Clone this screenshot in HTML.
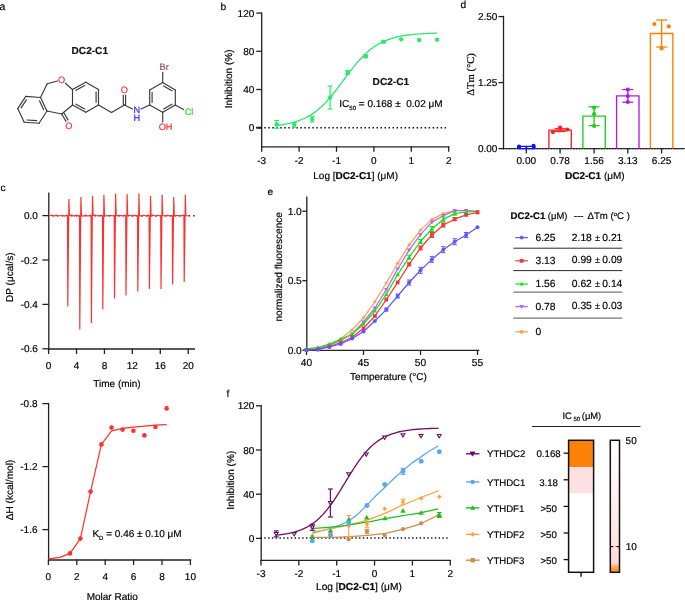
<!DOCTYPE html>
<html><head><meta charset="utf-8"><style>
html,body{margin:0;padding:0;background:#fff;}
svg{display:block;will-change:transform;}
text{stroke:#000;stroke-width:0.18px;paint-order:stroke;}
.nostroke{stroke:none}
svg{font-family:"Liberation Sans", sans-serif;text-rendering:geometricPrecision;}
</style></head><body>
<svg width="685" height="600" viewBox="0 0 685 600">
<rect width="685" height="600" fill="#fff"/>
<text x="-0.50" y="10.20" font-size="10.5" text-anchor="start" fill="#000" style="stroke:#000" >a</text>
<text x="220.50" y="10.30" font-size="10.2" text-anchor="start" fill="#000" style="stroke:#000" >b</text>
<text x="460.50" y="7.50" font-size="10.2" text-anchor="start" fill="#000" style="stroke:#000" >d</text>
<text x="0.50" y="191.20" font-size="10.2" text-anchor="start" fill="#000" style="stroke:#000" >c</text>
<text x="267.50" y="194.60" font-size="10.2" text-anchor="start" fill="#000" style="stroke:#000" >e</text>
<text x="226.50" y="396.50" font-size="10.2" text-anchor="start" fill="#000" style="stroke:#000" >f</text>
<text x="89.80" y="54.00" font-size="10.1" text-anchor="middle" font-weight="bold" fill="#111" style="stroke:#111" >DC2-C1</text>
<line x1="40.50" y1="97.50" x2="25.80" y2="96.40" stroke="#3a3a3a" stroke-width="1.15" stroke-linecap="round"/>
<line x1="25.80" y1="96.40" x2="17.70" y2="108.60" stroke="#3a3a3a" stroke-width="1.15" stroke-linecap="round"/>
<line x1="17.70" y1="108.60" x2="24.20" y2="122.20" stroke="#3a3a3a" stroke-width="1.15" stroke-linecap="round"/>
<line x1="24.20" y1="122.20" x2="39.00" y2="123.20" stroke="#3a3a3a" stroke-width="1.15" stroke-linecap="round"/>
<line x1="39.00" y1="123.20" x2="47.00" y2="111.00" stroke="#3a3a3a" stroke-width="1.15" stroke-linecap="round"/>
<line x1="47.00" y1="111.00" x2="40.50" y2="97.50" stroke="#3a3a3a" stroke-width="1.15" stroke-linecap="round"/>
<line x1="26.40" y1="99.84" x2="21.05" y2="107.89" stroke="#3a3a3a" stroke-width="1.15" stroke-linecap="round"/>
<line x1="39.45" y1="100.85" x2="43.74" y2="109.76" stroke="#3a3a3a" stroke-width="1.15" stroke-linecap="round"/>
<line x1="26.86" y1="119.97" x2="36.63" y2="120.63" stroke="#3a3a3a" stroke-width="1.15" stroke-linecap="round"/>
<line x1="40.50" y1="97.50" x2="47.20" y2="83.80" stroke="#3a3a3a" stroke-width="1.15" stroke-linecap="round"/>
<line x1="47.20" y1="83.80" x2="57.50" y2="81.00" stroke="#3a3a3a" stroke-width="1.15" stroke-linecap="round"/>
<line x1="72.50" y1="89.50" x2="85.80" y2="82.20" stroke="#3a3a3a" stroke-width="1.15" stroke-linecap="round"/>
<line x1="85.80" y1="82.20" x2="98.50" y2="89.50" stroke="#3a3a3a" stroke-width="1.15" stroke-linecap="round"/>
<line x1="98.50" y1="89.50" x2="98.50" y2="105.00" stroke="#3a3a3a" stroke-width="1.15" stroke-linecap="round"/>
<line x1="98.50" y1="105.00" x2="85.80" y2="112.30" stroke="#3a3a3a" stroke-width="1.15" stroke-linecap="round"/>
<line x1="85.80" y1="112.30" x2="72.50" y2="105.00" stroke="#3a3a3a" stroke-width="1.15" stroke-linecap="round"/>
<line x1="72.50" y1="105.00" x2="72.50" y2="89.50" stroke="#3a3a3a" stroke-width="1.15" stroke-linecap="round"/>
<line x1="75.94" y1="90.35" x2="84.72" y2="85.53" stroke="#3a3a3a" stroke-width="1.15" stroke-linecap="round"/>
<line x1="96.10" y1="92.14" x2="96.10" y2="102.37" stroke="#3a3a3a" stroke-width="1.15" stroke-linecap="round"/>
<line x1="84.72" y1="108.97" x2="75.95" y2="104.15" stroke="#3a3a3a" stroke-width="1.15" stroke-linecap="round"/>
<line x1="65.30" y1="83.20" x2="72.50" y2="89.50" stroke="#3a3a3a" stroke-width="1.15" stroke-linecap="round"/>
<line x1="47.00" y1="111.00" x2="61.70" y2="114.00" stroke="#3a3a3a" stroke-width="1.15" stroke-linecap="round"/>
<line x1="61.70" y1="114.00" x2="72.50" y2="105.00" stroke="#3a3a3a" stroke-width="1.15" stroke-linecap="round"/>
<line x1="61.70" y1="114.00" x2="66.20" y2="121.60" stroke="#3a3a3a" stroke-width="1.15" />
<line x1="63.90" y1="112.80" x2="68.20" y2="120.40" stroke="#3a3a3a" stroke-width="1.15" />
<text x="68.90" y="129.20" font-size="9.2" text-anchor="middle" fill="#ff2a2a" style="stroke:#ff2a2a" >O</text>
<text x="61.50" y="83.00" font-size="9.2" text-anchor="middle" fill="#ff2a2a" style="stroke:#ff2a2a" >O</text>
<line x1="98.50" y1="105.00" x2="111.50" y2="112.50" stroke="#3a3a3a" stroke-width="1.15" stroke-linecap="round"/>
<line x1="111.50" y1="112.50" x2="124.40" y2="105.00" stroke="#3a3a3a" stroke-width="1.15" stroke-linecap="round"/>
<line x1="123.30" y1="105.20" x2="123.30" y2="94.80" stroke="#3a3a3a" stroke-width="1.15" />
<line x1="125.60" y1="105.20" x2="125.60" y2="94.80" stroke="#3a3a3a" stroke-width="1.15" />
<text x="124.40" y="92.60" font-size="9.2" text-anchor="middle" fill="#ff2a2a" style="stroke:#ff2a2a" >O</text>
<line x1="124.40" y1="105.00" x2="132.50" y2="109.00" stroke="#3a3a3a" stroke-width="1.15" stroke-linecap="round"/>
<text x="136.70" y="113.30" font-size="9.2" text-anchor="middle" fill="#2a2aff" style="stroke:#2a2aff" >N</text>
<text x="136.70" y="121.40" font-size="9.2" text-anchor="middle" fill="#2a2aff" style="stroke:#2a2aff" >H</text>
<line x1="141.00" y1="109.00" x2="149.70" y2="105.00" stroke="#3a3a3a" stroke-width="1.15" stroke-linecap="round"/>
<line x1="149.70" y1="105.00" x2="149.70" y2="90.00" stroke="#3a3a3a" stroke-width="1.15" stroke-linecap="round"/>
<line x1="149.70" y1="90.00" x2="162.70" y2="82.60" stroke="#3a3a3a" stroke-width="1.15" stroke-linecap="round"/>
<line x1="162.70" y1="82.60" x2="175.30" y2="90.00" stroke="#3a3a3a" stroke-width="1.15" stroke-linecap="round"/>
<line x1="175.30" y1="90.00" x2="175.30" y2="105.00" stroke="#3a3a3a" stroke-width="1.15" stroke-linecap="round"/>
<line x1="175.30" y1="105.00" x2="162.70" y2="112.30" stroke="#3a3a3a" stroke-width="1.15" stroke-linecap="round"/>
<line x1="162.70" y1="112.30" x2="149.70" y2="105.00" stroke="#3a3a3a" stroke-width="1.15" stroke-linecap="round"/>
<line x1="152.10" y1="102.45" x2="152.10" y2="92.55" stroke="#3a3a3a" stroke-width="1.15" stroke-linecap="round"/>
<line x1="163.64" y1="85.93" x2="171.95" y2="90.82" stroke="#3a3a3a" stroke-width="1.15" stroke-linecap="round"/>
<line x1="171.95" y1="104.17" x2="163.63" y2="108.99" stroke="#3a3a3a" stroke-width="1.15" stroke-linecap="round"/>
<line x1="162.70" y1="82.60" x2="162.70" y2="72.30" stroke="#3a3a3a" stroke-width="1.15" stroke-linecap="round"/>
<text x="164.20" y="69.70" font-size="9.2" text-anchor="middle" fill="#a04848" style="stroke:#a04848" >Br</text>
<line x1="175.30" y1="105.00" x2="183.50" y2="109.60" stroke="#3a3a3a" stroke-width="1.15" stroke-linecap="round"/>
<text x="189.00" y="114.60" font-size="9.2" text-anchor="middle" fill="#22dd22" style="stroke:#22dd22" >Cl</text>
<line x1="162.70" y1="112.30" x2="162.70" y2="122.00" stroke="#3a3a3a" stroke-width="1.15" stroke-linecap="round"/>
<text x="165.60" y="129.70" font-size="9.2" text-anchor="middle" fill="#ff2a2a" style="stroke:#ff2a2a" >OH</text>
<line x1="261.70" y1="12.50" x2="261.70" y2="147.40" stroke="#222" stroke-width="1.3" />
<line x1="261.10" y1="146.80" x2="449.30" y2="146.80" stroke="#222" stroke-width="1.3" />
<line x1="256.30" y1="13.10" x2="262.00" y2="13.10" stroke="#222" stroke-width="1.3" />
<text x="254.30" y="16.70" font-size="10" text-anchor="end" fill="#000" style="stroke:#000" >120</text>
<line x1="256.30" y1="51.30" x2="262.00" y2="51.30" stroke="#222" stroke-width="1.3" />
<text x="254.30" y="54.90" font-size="10" text-anchor="end" fill="#000" style="stroke:#000" >80</text>
<line x1="256.30" y1="89.50" x2="262.00" y2="89.50" stroke="#222" stroke-width="1.3" />
<text x="254.30" y="93.10" font-size="10" text-anchor="end" fill="#000" style="stroke:#000" >40</text>
<line x1="256.30" y1="127.70" x2="262.00" y2="127.70" stroke="#222" stroke-width="1.3" />
<text x="254.30" y="131.30" font-size="10" text-anchor="end" fill="#000" style="stroke:#000" >0</text>
<line x1="256.30" y1="127.70" x2="262.00" y2="127.70" stroke="#222" stroke-width="2.0" />
<line x1="261.70" y1="146.20" x2="261.70" y2="151.80" stroke="#222" stroke-width="1.3" />
<text x="261.70" y="164.00" font-size="10" text-anchor="middle" fill="#000" style="stroke:#000" >-3</text>
<line x1="299.10" y1="146.20" x2="299.10" y2="151.80" stroke="#222" stroke-width="1.3" />
<text x="299.10" y="164.00" font-size="10" text-anchor="middle" fill="#000" style="stroke:#000" >-2</text>
<line x1="336.50" y1="146.20" x2="336.50" y2="151.80" stroke="#222" stroke-width="1.3" />
<text x="336.50" y="164.00" font-size="10" text-anchor="middle" fill="#000" style="stroke:#000" >-1</text>
<line x1="373.90" y1="146.20" x2="373.90" y2="151.80" stroke="#222" stroke-width="1.3" />
<text x="373.90" y="164.00" font-size="10" text-anchor="middle" fill="#000" style="stroke:#000" >0</text>
<line x1="411.30" y1="146.20" x2="411.30" y2="151.80" stroke="#222" stroke-width="1.3" />
<text x="411.30" y="164.00" font-size="10" text-anchor="middle" fill="#000" style="stroke:#000" >1</text>
<line x1="448.70" y1="146.20" x2="448.70" y2="151.80" stroke="#222" stroke-width="1.3" />
<text x="448.70" y="164.00" font-size="10" text-anchor="middle" fill="#000" style="stroke:#000" >2</text>
<line x1="260.20" y1="127.80" x2="446.00" y2="127.80" stroke="#111" stroke-width="1.5" stroke-dasharray="1.5,2.51"/>
<polyline points="276.66,125.39 278.26,125.21 279.87,125.00 281.47,124.77 283.08,124.53 284.68,124.26 286.29,123.97 287.89,123.66 289.50,123.31 291.10,122.94 292.70,122.53 294.31,122.09 295.91,121.61 297.52,121.09 299.12,120.52 300.73,119.91 302.33,119.26 303.94,118.55 305.54,117.78 307.14,116.96 308.75,116.07 310.35,115.13 311.96,114.11 313.56,113.03 315.17,111.87 316.77,110.65 318.38,109.34 319.98,107.96 321.58,106.51 323.19,104.97 324.79,103.37 326.40,101.68 328.00,99.93 329.61,98.10 331.21,96.22 332.82,94.27 334.42,92.27 336.03,90.21 337.63,88.12 339.23,86.00 340.84,83.85 342.44,81.68 344.05,79.51 345.65,77.34 347.26,75.19 348.86,73.05 350.47,70.94 352.07,68.87 353.67,66.84 355.28,64.86 356.88,62.94 358.49,61.09 360.09,59.30 361.70,57.58 363.30,55.93 364.91,54.36 366.51,52.87 368.11,51.45 369.72,50.11 371.32,48.85 372.93,47.65 374.53,46.54 376.14,45.49 377.74,44.51 379.35,43.59 380.95,42.74 382.55,41.95 384.16,41.21 385.76,40.53 387.37,39.89 388.97,39.31 390.58,38.77 392.18,38.27 393.79,37.81 395.39,37.38 396.99,36.99 398.60,36.63 400.20,36.30 401.81,36.00 403.41,35.72 405.02,35.46 406.62,35.23 408.23,35.01 409.83,34.82 411.43,34.64 413.04,34.47 414.64,34.32 416.25,34.18 417.85,34.05 419.46,33.94 421.06,33.83 422.67,33.74 424.27,33.65 425.87,33.57 427.48,33.49 429.08,33.42 430.69,33.36 432.29,33.31 433.90,33.26 435.50,33.21 437.11,33.17" fill="none" stroke="#2de86e" stroke-width="1.3" stroke-linejoin="round" />
<line x1="276.66" y1="120.54" x2="276.66" y2="128.18" stroke="#2de86e" stroke-width="1.2" />
<line x1="274.16" y1="120.54" x2="279.16" y2="120.54" stroke="#2de86e" stroke-width="1.2" />
<line x1="274.16" y1="128.18" x2="279.16" y2="128.18" stroke="#2de86e" stroke-width="1.2" />
<circle cx="276.66" cy="124.36" r="2.2" fill="#2de86e" stroke="none" stroke-width="0"/>
<line x1="294.24" y1="122.45" x2="294.24" y2="127.22" stroke="#2de86e" stroke-width="1.2" />
<line x1="291.74" y1="122.45" x2="296.74" y2="122.45" stroke="#2de86e" stroke-width="1.2" />
<line x1="291.74" y1="127.22" x2="296.74" y2="127.22" stroke="#2de86e" stroke-width="1.2" />
<circle cx="294.24" cy="124.84" r="2.2" fill="#2de86e" stroke="none" stroke-width="0"/>
<line x1="312.19" y1="116.24" x2="312.19" y2="121.97" stroke="#2de86e" stroke-width="1.2" />
<line x1="309.69" y1="116.24" x2="314.69" y2="116.24" stroke="#2de86e" stroke-width="1.2" />
<line x1="309.69" y1="121.97" x2="314.69" y2="121.97" stroke="#2de86e" stroke-width="1.2" />
<circle cx="312.19" cy="119.11" r="2.2" fill="#2de86e" stroke="none" stroke-width="0"/>
<line x1="330.14" y1="86.06" x2="330.14" y2="108.98" stroke="#2de86e" stroke-width="1.2" />
<line x1="327.64" y1="86.06" x2="332.64" y2="86.06" stroke="#2de86e" stroke-width="1.2" />
<line x1="327.64" y1="108.98" x2="332.64" y2="108.98" stroke="#2de86e" stroke-width="1.2" />
<circle cx="330.14" cy="97.52" r="2.2" fill="#2de86e" stroke="none" stroke-width="0"/>
<line x1="347.72" y1="70.69" x2="347.72" y2="74.51" stroke="#2de86e" stroke-width="1.2" />
<line x1="345.22" y1="70.69" x2="350.22" y2="70.69" stroke="#2de86e" stroke-width="1.2" />
<line x1="345.22" y1="74.51" x2="350.22" y2="74.51" stroke="#2de86e" stroke-width="1.2" />
<circle cx="347.72" cy="72.60" r="2.2" fill="#2de86e" stroke="none" stroke-width="0"/>
<line x1="365.67" y1="54.83" x2="365.67" y2="57.70" stroke="#2de86e" stroke-width="1.2" />
<line x1="363.17" y1="54.83" x2="368.17" y2="54.83" stroke="#2de86e" stroke-width="1.2" />
<line x1="363.17" y1="57.70" x2="368.17" y2="57.70" stroke="#2de86e" stroke-width="1.2" />
<circle cx="365.67" cy="56.27" r="2.2" fill="#2de86e" stroke="none" stroke-width="0"/>
<line x1="383.62" y1="40.80" x2="383.62" y2="42.71" stroke="#2de86e" stroke-width="1.2" />
<line x1="381.12" y1="40.80" x2="386.12" y2="40.80" stroke="#2de86e" stroke-width="1.2" />
<line x1="381.12" y1="42.71" x2="386.12" y2="42.71" stroke="#2de86e" stroke-width="1.2" />
<circle cx="383.62" cy="41.75" r="2.2" fill="#2de86e" stroke="none" stroke-width="0"/>
<circle cx="401.20" cy="39.36" r="2.2" fill="#2de86e" stroke="none" stroke-width="0"/>
<circle cx="419.15" cy="40.03" r="2.2" fill="#2de86e" stroke="none" stroke-width="0"/>
<circle cx="437.11" cy="39.65" r="2.2" fill="#2de86e" stroke="none" stroke-width="0"/>
<text x="372.60" y="84.60" font-size="10.1" text-anchor="start" font-weight="bold" fill="#111" style="stroke:#111" >DC2-C1</text>
<text x="339.3" y="107.3" font-size="10" fill="#000">IC<tspan font-size="6" dy="2.6">50</tspan><tspan dy="-2.6"> = 0.168 ± &#160;0.02 μM</tspan></text>
<text x="313.3" y="178.9" font-size="10" fill="#000">Log [<tspan font-weight="bold">DC2-C1</tspan>] (μM)</text>
<text transform="translate(232.4,78.75) rotate(-90)" font-size="10.1" text-anchor="middle" fill="#000">Inhibition (%)</text>
<line x1="503.50" y1="15.80" x2="503.50" y2="149.20" stroke="#222" stroke-width="1.3" />
<line x1="498.50" y1="16.60" x2="504.00" y2="16.60" stroke="#222" stroke-width="1.3" />
<text x="497.40" y="20.20" font-size="10" text-anchor="end" fill="#000" style="stroke:#000" >2.50</text>
<line x1="498.50" y1="82.60" x2="504.00" y2="82.60" stroke="#222" stroke-width="1.3" />
<text x="497.40" y="86.20" font-size="10" text-anchor="end" fill="#000" style="stroke:#000" >1.25</text>
<line x1="498.50" y1="148.60" x2="504.00" y2="148.60" stroke="#222" stroke-width="1.3" />
<text x="497.40" y="152.20" font-size="10" text-anchor="end" fill="#000" style="stroke:#000" >0.00</text>
<line x1="503.00" y1="148.60" x2="685.00" y2="148.60" stroke="#444" stroke-width="1.3" />
<line x1="503.00" y1="148.60" x2="685.00" y2="148.60" stroke="#111" stroke-width="1.3" stroke-dasharray="1.2,1.6"/>
<polyline points="548.90,148.60 548.90,130.12 571.30,130.12 571.30,148.60" fill="none" stroke="#ff1f1f" stroke-width="1.35"/>
<line x1="560.10" y1="128.75" x2="560.10" y2="131.49" stroke="#ff1f1f" stroke-width="1.4" />
<line x1="554.60" y1="128.75" x2="565.60" y2="128.75" stroke="#ff1f1f" stroke-width="1.3" />
<line x1="554.60" y1="131.49" x2="565.60" y2="131.49" stroke="#ff1f1f" stroke-width="1.3" />
<circle cx="552.90" cy="132.10" r="2.1" fill="#ff1f1f" stroke="none" stroke-width="0"/>
<circle cx="560.10" cy="127.59" r="2.1" fill="#ff1f1f" stroke="none" stroke-width="0"/>
<circle cx="567.30" cy="129.49" r="2.1" fill="#ff1f1f" stroke="none" stroke-width="0"/>
<polyline points="582.90,148.60 582.90,116.18 605.30,116.18 605.30,148.60" fill="none" stroke="#22cc22" stroke-width="1.35"/>
<line x1="594.10" y1="106.78" x2="594.10" y2="125.58" stroke="#22cc22" stroke-width="1.4" />
<line x1="588.60" y1="106.78" x2="599.60" y2="106.78" stroke="#22cc22" stroke-width="1.3" />
<line x1="588.60" y1="125.58" x2="599.60" y2="125.58" stroke="#22cc22" stroke-width="1.3" />
<circle cx="594.10" cy="107.63" r="2.1" fill="#22cc22" stroke="none" stroke-width="0"/>
<circle cx="594.10" cy="114.02" r="2.1" fill="#22cc22" stroke="none" stroke-width="0"/>
<circle cx="594.10" cy="126.00" r="2.1" fill="#22cc22" stroke="none" stroke-width="0"/>
<polyline points="616.60,148.60 616.60,95.91 639.00,95.91 639.00,148.60" fill="none" stroke="#b01ee6" stroke-width="1.35"/>
<line x1="627.80" y1="89.57" x2="627.80" y2="102.24" stroke="#b01ee6" stroke-width="1.4" />
<line x1="622.30" y1="89.57" x2="633.30" y2="89.57" stroke="#b01ee6" stroke-width="1.3" />
<line x1="622.30" y1="102.24" x2="633.30" y2="102.24" stroke="#b01ee6" stroke-width="1.3" />
<circle cx="627.80" cy="89.62" r="2.1" fill="#b01ee6" stroke="none" stroke-width="0"/>
<circle cx="627.80" cy="96.01" r="2.1" fill="#b01ee6" stroke="none" stroke-width="0"/>
<circle cx="627.80" cy="101.98" r="2.1" fill="#b01ee6" stroke="none" stroke-width="0"/>
<polyline points="650.40,148.60 650.40,33.50 672.80,33.50 672.80,148.60" fill="none" stroke="#ff8000" stroke-width="1.35"/>
<line x1="661.60" y1="19.98" x2="661.60" y2="47.01" stroke="#ff8000" stroke-width="1.4" />
<line x1="656.10" y1="19.98" x2="667.10" y2="19.98" stroke="#ff8000" stroke-width="1.3" />
<line x1="656.10" y1="47.01" x2="667.10" y2="47.01" stroke="#ff8000" stroke-width="1.3" />
<circle cx="654.40" cy="23.99" r="2.1" fill="#ff8000" stroke="none" stroke-width="0"/>
<circle cx="661.60" cy="48.39" r="2.1" fill="#ff8000" stroke="none" stroke-width="0"/>
<circle cx="668.80" cy="26.42" r="2.1" fill="#ff8000" stroke="none" stroke-width="0"/>
<rect x="517.6" y="145.7" width="18" height="3.6" rx="1.2" fill="#1010ff"/>
<line x1="520.80" y1="147.50" x2="525.40" y2="147.50" stroke="#ffffff" stroke-width="1.0" />
<line x1="527.40" y1="147.50" x2="532.20" y2="147.50" stroke="#ffffff" stroke-width="1.0" />
<circle cx="519.00" cy="146.70" r="2.1" fill="#1010ff" stroke="none" stroke-width="0"/>
<circle cx="533.50" cy="145.90" r="2.1" fill="#1010ff" stroke="none" stroke-width="0"/>
<line x1="526.30" y1="148.60" x2="526.30" y2="153.50" stroke="#222" stroke-width="1.3" />
<line x1="560.10" y1="148.60" x2="560.10" y2="153.50" stroke="#222" stroke-width="1.3" />
<line x1="594.10" y1="148.60" x2="594.10" y2="153.50" stroke="#222" stroke-width="1.3" />
<line x1="627.80" y1="148.60" x2="627.80" y2="153.50" stroke="#222" stroke-width="1.3" />
<line x1="661.60" y1="148.60" x2="661.60" y2="153.50" stroke="#222" stroke-width="1.3" />
<text x="526.30" y="164.40" font-size="10" text-anchor="middle" fill="#000" style="stroke:#000" >0.00</text>
<text x="560.10" y="164.40" font-size="10" text-anchor="middle" fill="#000" style="stroke:#000" >0.78</text>
<text x="594.10" y="164.40" font-size="10" text-anchor="middle" fill="#000" style="stroke:#000" >1.56</text>
<text x="627.80" y="164.40" font-size="10" text-anchor="middle" fill="#000" style="stroke:#000" >3.13</text>
<text x="661.60" y="164.40" font-size="10" text-anchor="middle" fill="#000" style="stroke:#000" >6.25</text>
<text x="565" y="179.2" font-size="10" fill="#000"><tspan font-weight="bold">DC2-C1</tspan> (μM)</text>
<text transform="translate(474.1,74.5) rotate(-90)" font-size="10.6" text-anchor="middle" font-family='"Liberation Serif", serif' fill="#000">ΔTm (°C)</text>
<line x1="48.80" y1="192.50" x2="48.80" y2="349.60" stroke="#222" stroke-width="1.3" />
<line x1="48.20" y1="349.00" x2="195.00" y2="349.00" stroke="#222" stroke-width="1.3" />
<line x1="42.40" y1="215.60" x2="49.00" y2="215.60" stroke="#222" stroke-width="1.3" />
<text x="37.90" y="219.20" font-size="10" text-anchor="end" fill="#000" style="stroke:#000" >0.0</text>
<line x1="42.40" y1="260.00" x2="49.00" y2="260.00" stroke="#222" stroke-width="1.3" />
<text x="37.90" y="263.60" font-size="10" text-anchor="end" fill="#000" style="stroke:#000" >-0.2</text>
<line x1="42.40" y1="304.40" x2="49.00" y2="304.40" stroke="#222" stroke-width="1.3" />
<text x="37.90" y="308.00" font-size="10" text-anchor="end" fill="#000" style="stroke:#000" >-0.4</text>
<line x1="42.40" y1="348.80" x2="49.00" y2="348.80" stroke="#222" stroke-width="1.3" />
<text x="37.90" y="352.40" font-size="10" text-anchor="end" fill="#000" style="stroke:#000" >-0.6</text>
<line x1="48.60" y1="348.50" x2="48.60" y2="354.00" stroke="#222" stroke-width="1.3" />
<text x="48.60" y="368.60" font-size="10" text-anchor="middle" fill="#000" style="stroke:#000" >0</text>
<line x1="76.52" y1="348.50" x2="76.52" y2="354.00" stroke="#222" stroke-width="1.3" />
<text x="76.52" y="368.60" font-size="10" text-anchor="middle" fill="#000" style="stroke:#000" >4</text>
<line x1="104.44" y1="348.50" x2="104.44" y2="354.00" stroke="#222" stroke-width="1.3" />
<text x="104.44" y="368.60" font-size="10" text-anchor="middle" fill="#000" style="stroke:#000" >8</text>
<line x1="132.36" y1="348.50" x2="132.36" y2="354.00" stroke="#222" stroke-width="1.3" />
<text x="132.36" y="368.60" font-size="10" text-anchor="middle" fill="#000" style="stroke:#000" >12</text>
<line x1="160.28" y1="348.50" x2="160.28" y2="354.00" stroke="#222" stroke-width="1.3" />
<text x="160.28" y="368.60" font-size="10" text-anchor="middle" fill="#000" style="stroke:#000" >16</text>
<line x1="188.20" y1="348.50" x2="188.20" y2="354.00" stroke="#222" stroke-width="1.3" />
<text x="188.20" y="368.60" font-size="10" text-anchor="middle" fill="#000" style="stroke:#000" >20</text>
<text x="117.00" y="386.80" font-size="10" text-anchor="middle" fill="#000" style="stroke:#000" >Time (min)</text>
<text transform="translate(13.4,277.2) rotate(-90)" font-size="10" text-anchor="middle" fill="#000">DP (μcal/s)</text>
<line x1="52.35" y1="215.70" x2="195.00" y2="215.70" stroke="#111" stroke-width="1.4" stroke-dasharray="1.3,3.4"/>
<path d="M49.5,215.8 L51.64,215.14 L53.78,215.96 L55.91,215.39 L58.05,215.63 L60.19,215.75 L62.33,215.29 L64.46,216.03 L66.60,215.11 L67.50,215.6 L67.80,306.60 L68.70,215.6 L68.90,199.00 L69.50,215.6 L71.78,215.20 L74.05,216.05 L76.33,215.12 L78.60,216.10 L79.50,215.6 L79.80,329.60 L80.70,215.6 L80.90,197.00 L81.50,215.6 L83.67,216.06 L85.85,215.10 L88.03,216.09 L90.20,215.17 L91.10,215.6 L91.40,323.00 L92.30,215.6 L92.50,196.00 L93.10,215.6 L95.22,215.12 L97.35,215.99 L99.48,215.35 L101.60,215.67 L102.50,215.6 L102.80,309.40 L103.70,215.6 L103.90,195.00 L104.50,215.6 L106.70,215.83 L108.90,215.50 L111.10,215.56 L113.30,215.78 L114.20,215.6 L114.50,298.40 L115.40,215.6 L115.60,193.40 L116.20,215.6 L118.35,215.64 L120.50,215.39 L122.65,215.95 L124.80,215.15 L125.70,215.6 L126.00,295.40 L126.90,215.6 L127.10,194.00 L127.70,215.6 L129.93,215.26 L132.15,216.02 L134.38,215.13 L136.60,216.10 L137.50,215.6 L137.80,291.60 L138.70,215.6 L138.90,193.60 L139.50,215.6 L141.68,216.06 L143.85,215.10 L146.03,216.09 L148.20,215.17 L149.10,215.6 L149.40,289.00 L150.30,215.6 L150.50,196.00 L151.10,215.6 L153.28,215.11 L155.45,216.03 L157.62,215.27 L159.80,215.79 L160.70,215.6 L161.00,289.00 L161.90,215.6 L162.10,194.60 L162.70,215.6 L164.88,215.93 L167.05,215.41 L169.22,215.64 L171.40,215.72 L172.30,215.6 L172.60,284.40 L173.50,215.6 L173.70,197.00 L174.30,215.6 L176.47,215.56 L178.65,215.48 L180.83,215.86 L183.00,215.22 L183.90,215.6 L184.20,282.00 L185.10,215.6 L185.30,194.60 L185.90,215.6 L189.80,215.8" fill="none" stroke="#ff3030" stroke-width="1.15" stroke-linejoin="miter" stroke-miterlimit="20"/>
<line x1="48.60" y1="403.00" x2="48.60" y2="560.60" stroke="#222" stroke-width="1.3" />
<line x1="48.00" y1="560.00" x2="191.20" y2="560.00" stroke="#222" stroke-width="1.3" />
<line x1="42.40" y1="403.60" x2="49.00" y2="403.60" stroke="#222" stroke-width="1.3" />
<text x="37.50" y="407.20" font-size="10" text-anchor="end" fill="#000" style="stroke:#000" >-0.8</text>
<line x1="42.40" y1="466.60" x2="49.00" y2="466.60" stroke="#222" stroke-width="1.3" />
<text x="37.50" y="470.20" font-size="10" text-anchor="end" fill="#000" style="stroke:#000" >-1.2</text>
<line x1="42.40" y1="529.60" x2="49.00" y2="529.60" stroke="#222" stroke-width="1.3" />
<text x="37.50" y="533.20" font-size="10" text-anchor="end" fill="#000" style="stroke:#000" >-1.6</text>
<line x1="48.40" y1="559.50" x2="48.40" y2="565.00" stroke="#222" stroke-width="1.3" />
<text x="48.40" y="580.00" font-size="10" text-anchor="middle" fill="#000" style="stroke:#000" >0</text>
<line x1="76.80" y1="559.50" x2="76.80" y2="565.00" stroke="#222" stroke-width="1.3" />
<text x="76.80" y="580.00" font-size="10" text-anchor="middle" fill="#000" style="stroke:#000" >2</text>
<line x1="105.20" y1="559.50" x2="105.20" y2="565.00" stroke="#222" stroke-width="1.3" />
<text x="105.20" y="580.00" font-size="10" text-anchor="middle" fill="#000" style="stroke:#000" >4</text>
<line x1="133.60" y1="559.50" x2="133.60" y2="565.00" stroke="#222" stroke-width="1.3" />
<text x="133.60" y="580.00" font-size="10" text-anchor="middle" fill="#000" style="stroke:#000" >6</text>
<line x1="162.00" y1="559.50" x2="162.00" y2="565.00" stroke="#222" stroke-width="1.3" />
<text x="162.00" y="580.00" font-size="10" text-anchor="middle" fill="#000" style="stroke:#000" >8</text>
<line x1="190.40" y1="559.50" x2="190.40" y2="565.00" stroke="#222" stroke-width="1.3" />
<text x="190.40" y="580.00" font-size="10" text-anchor="middle" fill="#000" style="stroke:#000" >10</text>
<text x="112.20" y="599.60" font-size="10" text-anchor="middle" fill="#000" style="stroke:#000" >Molar Ratio</text>
<text transform="translate(13.1,490) rotate(-90)" font-size="10.1" text-anchor="middle" fill="#000">ΔH (kcal/mol)</text>
<polyline points="48.40,558.80 60.00,557.40 70.00,553.40 80.40,538.60 90.60,491.60 101.40,444.40 111.60,430.80 122.60,428.40 133.40,427.10 144.40,426.10 155.40,425.20 166.60,424.60" fill="none" stroke="#ff3030" stroke-width="1.2" stroke-linejoin="round" />
<circle cx="70.00" cy="553.40" r="2.3" fill="#ff3030" stroke="none" stroke-width="0"/>
<circle cx="80.40" cy="538.60" r="2.3" fill="#ff3030" stroke="none" stroke-width="0"/>
<circle cx="90.60" cy="491.60" r="2.3" fill="#ff3030" stroke="none" stroke-width="0"/>
<circle cx="101.40" cy="444.40" r="2.3" fill="#ff3030" stroke="none" stroke-width="0"/>
<circle cx="111.60" cy="427.60" r="2.3" fill="#ff3030" stroke="none" stroke-width="0"/>
<circle cx="122.60" cy="429.60" r="2.3" fill="#ff3030" stroke="none" stroke-width="0"/>
<circle cx="133.40" cy="430.80" r="2.3" fill="#ff3030" stroke="none" stroke-width="0"/>
<circle cx="144.40" cy="435.40" r="2.3" fill="#ff3030" stroke="none" stroke-width="0"/>
<circle cx="155.40" cy="427.00" r="2.3" fill="#ff3030" stroke="none" stroke-width="0"/>
<circle cx="166.60" cy="408.40" r="2.3" fill="#ff3030" stroke="none" stroke-width="0"/>
<text x="92.4" y="537" font-size="10" fill="#000">K<tspan font-size="6" dy="2.6">D</tspan><tspan dy="-2.6"> = 0.46 ± 0.10 μM</tspan></text>
<line x1="306.80" y1="196.50" x2="306.80" y2="351.00" stroke="#222" stroke-width="1.3" />
<line x1="306.20" y1="350.40" x2="479.40" y2="350.40" stroke="#222" stroke-width="1.3" />
<line x1="302.30" y1="211.20" x2="307.00" y2="211.20" stroke="#222" stroke-width="1.3" />
<text x="301.80" y="214.80" font-size="10.2" text-anchor="end" fill="#000" style="stroke:#000" >1.0</text>
<line x1="302.30" y1="280.70" x2="307.00" y2="280.70" stroke="#222" stroke-width="1.3" />
<text x="301.80" y="284.30" font-size="10.2" text-anchor="end" fill="#000" style="stroke:#000" >0.5</text>
<line x1="302.30" y1="350.20" x2="307.00" y2="350.20" stroke="#222" stroke-width="1.3" />
<text x="301.80" y="353.80" font-size="10.2" text-anchor="end" fill="#000" style="stroke:#000" >0.0</text>
<line x1="306.50" y1="350.00" x2="306.50" y2="355.00" stroke="#222" stroke-width="1.3" />
<text x="306.50" y="365.80" font-size="10.2" text-anchor="middle" fill="#000" style="stroke:#000" >40</text>
<line x1="363.50" y1="350.00" x2="363.50" y2="355.00" stroke="#222" stroke-width="1.3" />
<text x="363.50" y="365.80" font-size="10.2" text-anchor="middle" fill="#000" style="stroke:#000" >45</text>
<line x1="420.50" y1="350.00" x2="420.50" y2="355.00" stroke="#222" stroke-width="1.3" />
<text x="420.50" y="365.80" font-size="10.2" text-anchor="middle" fill="#000" style="stroke:#000" >50</text>
<line x1="477.50" y1="350.00" x2="477.50" y2="355.00" stroke="#222" stroke-width="1.3" />
<text x="477.50" y="365.80" font-size="10.2" text-anchor="middle" fill="#000" style="stroke:#000" >55</text>
<text x="388.50" y="379.80" font-size="10" text-anchor="middle" fill="#000" style="stroke:#000" >Temperature (°C)</text>
<text transform="translate(282.2,266.8) rotate(-90)" font-size="10.1" text-anchor="middle" fill="#000">normalized fluorescence</text>
<polyline points="306.50,349.30 317.90,348.00 329.30,345.00 340.70,338.80 352.10,330.00 363.50,317.80 374.90,301.60 386.30,283.00 397.70,263.30 409.10,244.80 420.50,230.10 431.90,219.40 443.30,213.60 454.70,210.60 466.10,210.40 477.50,211.70" fill="none" stroke="#ffa050" stroke-width="1.25" stroke-linejoin="round" />
<circle cx="306.50" cy="349.30" r="1.52" fill="#ffa050" stroke="none" stroke-width="0"/>
<circle cx="317.90" cy="348.00" r="1.52" fill="#ffa050" stroke="none" stroke-width="0"/>
<circle cx="329.30" cy="345.00" r="1.52" fill="#ffa050" stroke="none" stroke-width="0"/>
<circle cx="340.70" cy="338.80" r="1.52" fill="#ffa050" stroke="none" stroke-width="0"/>
<circle cx="352.10" cy="330.00" r="1.52" fill="#ffa050" stroke="none" stroke-width="0"/>
<circle cx="363.50" cy="317.80" r="1.52" fill="#ffa050" stroke="none" stroke-width="0"/>
<circle cx="374.90" cy="301.60" r="1.52" fill="#ffa050" stroke="none" stroke-width="0"/>
<circle cx="386.30" cy="283.00" r="1.52" fill="#ffa050" stroke="none" stroke-width="0"/>
<circle cx="397.70" cy="263.30" r="1.52" fill="#ffa050" stroke="none" stroke-width="0"/>
<circle cx="409.10" cy="244.80" r="1.52" fill="#ffa050" stroke="none" stroke-width="0"/>
<circle cx="420.50" cy="230.10" r="1.52" fill="#ffa050" stroke="none" stroke-width="0"/>
<circle cx="431.90" cy="219.40" r="1.52" fill="#ffa050" stroke="none" stroke-width="0"/>
<circle cx="443.30" cy="213.60" r="1.52" fill="#ffa050" stroke="none" stroke-width="0"/>
<circle cx="454.70" cy="210.60" r="1.52" fill="#ffa050" stroke="none" stroke-width="0"/>
<circle cx="466.10" cy="210.40" r="1.52" fill="#ffa050" stroke="none" stroke-width="0"/>
<circle cx="477.50" cy="211.70" r="1.52" fill="#ffa050" stroke="none" stroke-width="0"/>
<polyline points="306.50,349.50 317.90,348.50 329.30,345.50 340.70,340.50 352.10,334.00 363.50,322.00 374.90,308.00 386.30,289.60 397.70,269.00 409.10,250.10 420.50,234.60 431.90,222.10 443.30,215.70 454.70,210.60 466.10,210.60 477.50,211.70" fill="none" stroke="#b566ee" stroke-width="1.25" stroke-linejoin="round" />
<polygon points="306.50,351.80 308.70,347.90 304.30,347.90" fill="#b566ee"/>
<polygon points="317.90,350.80 320.10,346.90 315.70,346.90" fill="#b566ee"/>
<polygon points="329.30,347.80 331.50,343.90 327.10,343.90" fill="#b566ee"/>
<polygon points="340.70,342.80 342.90,338.90 338.50,338.90" fill="#b566ee"/>
<polygon points="352.10,336.30 354.30,332.40 349.90,332.40" fill="#b566ee"/>
<polygon points="363.50,324.30 365.70,320.40 361.30,320.40" fill="#b566ee"/>
<polygon points="374.90,310.30 377.10,306.40 372.70,306.40" fill="#b566ee"/>
<polygon points="386.30,291.90 388.50,288.00 384.10,288.00" fill="#b566ee"/>
<polygon points="397.70,271.30 399.90,267.40 395.50,267.40" fill="#b566ee"/>
<polygon points="409.10,252.40 411.30,248.50 406.90,248.50" fill="#b566ee"/>
<polygon points="420.50,236.90 422.70,233.00 418.30,233.00" fill="#b566ee"/>
<polygon points="431.90,224.40 434.10,220.50 429.70,220.50" fill="#b566ee"/>
<polygon points="443.30,218.00 445.50,214.10 441.10,214.10" fill="#b566ee"/>
<polygon points="454.70,212.90 456.90,209.00 452.50,209.00" fill="#b566ee"/>
<polygon points="466.10,212.90 468.30,209.00 463.90,209.00" fill="#b566ee"/>
<polygon points="477.50,214.00 479.70,210.10 475.30,210.10" fill="#b566ee"/>
<polyline points="306.50,348.80 317.90,347.50 329.30,344.10 340.70,339.30 352.10,334.20 363.50,324.00 374.90,311.00 386.30,294.40 397.70,274.50 409.10,257.30 420.50,241.50 431.90,229.00 443.30,219.40 454.70,213.60 466.10,212.00 477.50,211.70" fill="none" stroke="#16e016" stroke-width="1.25" stroke-linejoin="round" />
<polygon points="306.50,346.50 308.70,350.40 304.30,350.40" fill="#16e016"/>
<polygon points="317.90,345.20 320.10,349.10 315.70,349.10" fill="#16e016"/>
<polygon points="329.30,341.80 331.50,345.70 327.10,345.70" fill="#16e016"/>
<polygon points="340.70,337.00 342.90,340.90 338.50,340.90" fill="#16e016"/>
<polygon points="352.10,331.90 354.30,335.80 349.90,335.80" fill="#16e016"/>
<polygon points="363.50,321.70 365.70,325.60 361.30,325.60" fill="#16e016"/>
<polygon points="374.90,308.70 377.10,312.60 372.70,312.60" fill="#16e016"/>
<polygon points="386.30,292.10 388.50,296.00 384.10,296.00" fill="#16e016"/>
<polygon points="397.70,272.20 399.90,276.10 395.50,276.10" fill="#16e016"/>
<polygon points="409.10,255.00 411.30,258.90 406.90,258.90" fill="#16e016"/>
<polygon points="420.50,239.20 422.70,243.10 418.30,243.10" fill="#16e016"/>
<polygon points="431.90,226.70 434.10,230.60 429.70,230.60" fill="#16e016"/>
<polygon points="443.30,217.10 445.50,221.00 441.10,221.00" fill="#16e016"/>
<polygon points="454.70,211.30 456.90,215.20 452.50,215.20" fill="#16e016"/>
<polygon points="466.10,209.70 468.30,213.60 463.90,213.60" fill="#16e016"/>
<polygon points="477.50,209.40 479.70,213.30 475.30,213.30" fill="#16e016"/>
<polyline points="306.50,349.90 317.90,349.40 329.30,346.50 340.70,342.70 352.10,337.30 363.50,328.20 374.90,316.00 386.30,299.60 397.70,282.40 409.10,264.30 420.50,248.00 431.90,235.00 443.30,225.00 454.70,219.20 466.10,214.90 477.50,212.50" fill="none" stroke="#f23c3c" stroke-width="1.25" stroke-linejoin="round" />
<rect x="304.60" y="348.00" width="3.80" height="3.80" fill="#f23c3c"/>
<rect x="316.00" y="347.50" width="3.80" height="3.80" fill="#f23c3c"/>
<rect x="327.40" y="344.60" width="3.80" height="3.80" fill="#f23c3c"/>
<rect x="338.80" y="340.80" width="3.80" height="3.80" fill="#f23c3c"/>
<rect x="350.20" y="335.40" width="3.80" height="3.80" fill="#f23c3c"/>
<rect x="361.60" y="326.30" width="3.80" height="3.80" fill="#f23c3c"/>
<rect x="373.00" y="314.10" width="3.80" height="3.80" fill="#f23c3c"/>
<rect x="384.40" y="297.70" width="3.80" height="3.80" fill="#f23c3c"/>
<rect x="395.80" y="280.50" width="3.80" height="3.80" fill="#f23c3c"/>
<rect x="407.20" y="262.40" width="3.80" height="3.80" fill="#f23c3c"/>
<rect x="418.60" y="246.10" width="3.80" height="3.80" fill="#f23c3c"/>
<rect x="430.00" y="233.10" width="3.80" height="3.80" fill="#f23c3c"/>
<rect x="441.40" y="223.10" width="3.80" height="3.80" fill="#f23c3c"/>
<rect x="452.80" y="217.30" width="3.80" height="3.80" fill="#f23c3c"/>
<rect x="464.20" y="213.00" width="3.80" height="3.80" fill="#f23c3c"/>
<rect x="475.60" y="210.60" width="3.80" height="3.80" fill="#f23c3c"/>
<polyline points="306.50,350.10 317.90,349.40 329.30,347.00 340.70,344.00 352.10,338.60 363.50,331.50 374.90,321.00 386.30,309.60 397.70,296.00 409.10,282.50 420.50,270.30 431.90,259.40 443.30,249.70 454.70,241.70 466.10,235.00 477.50,227.30" fill="none" stroke="#5a5aff" stroke-width="1.25" stroke-linejoin="round" />
<circle cx="306.50" cy="350.10" r="1.9949999999999999" fill="#5a5aff" stroke="none" stroke-width="0"/>
<circle cx="317.90" cy="349.40" r="1.9949999999999999" fill="#5a5aff" stroke="none" stroke-width="0"/>
<circle cx="329.30" cy="347.00" r="1.9949999999999999" fill="#5a5aff" stroke="none" stroke-width="0"/>
<circle cx="340.70" cy="344.00" r="1.9949999999999999" fill="#5a5aff" stroke="none" stroke-width="0"/>
<circle cx="352.10" cy="338.60" r="1.9949999999999999" fill="#5a5aff" stroke="none" stroke-width="0"/>
<circle cx="363.50" cy="331.50" r="1.9949999999999999" fill="#5a5aff" stroke="none" stroke-width="0"/>
<circle cx="374.90" cy="321.00" r="1.9949999999999999" fill="#5a5aff" stroke="none" stroke-width="0"/>
<circle cx="386.30" cy="309.60" r="1.9949999999999999" fill="#5a5aff" stroke="none" stroke-width="0"/>
<circle cx="397.70" cy="296.00" r="1.9949999999999999" fill="#5a5aff" stroke="none" stroke-width="0"/>
<circle cx="409.10" cy="282.50" r="1.9949999999999999" fill="#5a5aff" stroke="none" stroke-width="0"/>
<circle cx="420.50" cy="270.30" r="1.9949999999999999" fill="#5a5aff" stroke="none" stroke-width="0"/>
<circle cx="431.90" cy="259.40" r="1.9949999999999999" fill="#5a5aff" stroke="none" stroke-width="0"/>
<circle cx="443.30" cy="249.70" r="1.9949999999999999" fill="#5a5aff" stroke="none" stroke-width="0"/>
<circle cx="454.70" cy="241.70" r="1.9949999999999999" fill="#5a5aff" stroke="none" stroke-width="0"/>
<circle cx="466.10" cy="235.00" r="1.9949999999999999" fill="#5a5aff" stroke="none" stroke-width="0"/>
<circle cx="477.50" cy="227.30" r="1.9949999999999999" fill="#5a5aff" stroke="none" stroke-width="0"/>
<line x1="386.30" y1="308.10" x2="386.30" y2="311.10" stroke="#5a5aff" stroke-width="1.0" />
<line x1="384.10" y1="308.10" x2="388.50" y2="308.10" stroke="#5a5aff" stroke-width="1.0" />
<line x1="384.10" y1="311.10" x2="388.50" y2="311.10" stroke="#5a5aff" stroke-width="1.0" />
<line x1="397.70" y1="294.00" x2="397.70" y2="298.00" stroke="#5a5aff" stroke-width="1.0" />
<line x1="395.50" y1="294.00" x2="399.90" y2="294.00" stroke="#5a5aff" stroke-width="1.0" />
<line x1="395.50" y1="298.00" x2="399.90" y2="298.00" stroke="#5a5aff" stroke-width="1.0" />
<line x1="409.10" y1="280.00" x2="409.10" y2="285.00" stroke="#5a5aff" stroke-width="1.0" />
<line x1="406.90" y1="280.00" x2="411.30" y2="280.00" stroke="#5a5aff" stroke-width="1.0" />
<line x1="406.90" y1="285.00" x2="411.30" y2="285.00" stroke="#5a5aff" stroke-width="1.0" />
<line x1="420.50" y1="267.30" x2="420.50" y2="273.30" stroke="#5a5aff" stroke-width="1.0" />
<line x1="418.30" y1="267.30" x2="422.70" y2="267.30" stroke="#5a5aff" stroke-width="1.0" />
<line x1="418.30" y1="273.30" x2="422.70" y2="273.30" stroke="#5a5aff" stroke-width="1.0" />
<line x1="431.90" y1="256.40" x2="431.90" y2="262.40" stroke="#5a5aff" stroke-width="1.0" />
<line x1="429.70" y1="256.40" x2="434.10" y2="256.40" stroke="#5a5aff" stroke-width="1.0" />
<line x1="429.70" y1="262.40" x2="434.10" y2="262.40" stroke="#5a5aff" stroke-width="1.0" />
<line x1="443.30" y1="246.70" x2="443.30" y2="252.70" stroke="#5a5aff" stroke-width="1.0" />
<line x1="441.10" y1="246.70" x2="445.50" y2="246.70" stroke="#5a5aff" stroke-width="1.0" />
<line x1="441.10" y1="252.70" x2="445.50" y2="252.70" stroke="#5a5aff" stroke-width="1.0" />
<line x1="454.70" y1="238.70" x2="454.70" y2="244.70" stroke="#5a5aff" stroke-width="1.0" />
<line x1="452.50" y1="238.70" x2="456.90" y2="238.70" stroke="#5a5aff" stroke-width="1.0" />
<line x1="452.50" y1="244.70" x2="456.90" y2="244.70" stroke="#5a5aff" stroke-width="1.0" />
<line x1="466.10" y1="232.50" x2="466.10" y2="237.50" stroke="#5a5aff" stroke-width="1.0" />
<line x1="463.90" y1="232.50" x2="468.30" y2="232.50" stroke="#5a5aff" stroke-width="1.0" />
<line x1="463.90" y1="237.50" x2="468.30" y2="237.50" stroke="#5a5aff" stroke-width="1.0" />
<line x1="409.10" y1="255.30" x2="409.10" y2="259.30" stroke="#16e016" stroke-width="1.0" />
<line x1="406.90" y1="255.30" x2="411.30" y2="255.30" stroke="#16e016" stroke-width="1.0" />
<line x1="406.90" y1="259.30" x2="411.30" y2="259.30" stroke="#16e016" stroke-width="1.0" />
<line x1="420.50" y1="239.50" x2="420.50" y2="243.50" stroke="#16e016" stroke-width="1.0" />
<line x1="418.30" y1="239.50" x2="422.70" y2="239.50" stroke="#16e016" stroke-width="1.0" />
<line x1="418.30" y1="243.50" x2="422.70" y2="243.50" stroke="#16e016" stroke-width="1.0" />
<line x1="431.90" y1="226.50" x2="431.90" y2="231.50" stroke="#16e016" stroke-width="1.0" />
<line x1="429.70" y1="226.50" x2="434.10" y2="226.50" stroke="#16e016" stroke-width="1.0" />
<line x1="429.70" y1="231.50" x2="434.10" y2="231.50" stroke="#16e016" stroke-width="1.0" />
<line x1="443.30" y1="216.90" x2="443.30" y2="221.90" stroke="#16e016" stroke-width="1.0" />
<line x1="441.10" y1="216.90" x2="445.50" y2="216.90" stroke="#16e016" stroke-width="1.0" />
<line x1="441.10" y1="221.90" x2="445.50" y2="221.90" stroke="#16e016" stroke-width="1.0" />
<line x1="454.70" y1="212.10" x2="454.70" y2="215.10" stroke="#16e016" stroke-width="1.0" />
<line x1="452.50" y1="212.10" x2="456.90" y2="212.10" stroke="#16e016" stroke-width="1.0" />
<line x1="452.50" y1="215.10" x2="456.90" y2="215.10" stroke="#16e016" stroke-width="1.0" />
<line x1="409.10" y1="262.80" x2="409.10" y2="265.80" stroke="#f23c3c" stroke-width="1.0" />
<line x1="406.90" y1="262.80" x2="411.30" y2="262.80" stroke="#f23c3c" stroke-width="1.0" />
<line x1="406.90" y1="265.80" x2="411.30" y2="265.80" stroke="#f23c3c" stroke-width="1.0" />
<line x1="420.50" y1="246.00" x2="420.50" y2="250.00" stroke="#f23c3c" stroke-width="1.0" />
<line x1="418.30" y1="246.00" x2="422.70" y2="246.00" stroke="#f23c3c" stroke-width="1.0" />
<line x1="418.30" y1="250.00" x2="422.70" y2="250.00" stroke="#f23c3c" stroke-width="1.0" />
<line x1="431.90" y1="232.50" x2="431.90" y2="237.50" stroke="#f23c3c" stroke-width="1.0" />
<line x1="429.70" y1="232.50" x2="434.10" y2="232.50" stroke="#f23c3c" stroke-width="1.0" />
<line x1="429.70" y1="237.50" x2="434.10" y2="237.50" stroke="#f23c3c" stroke-width="1.0" />
<line x1="443.30" y1="223.00" x2="443.30" y2="227.00" stroke="#f23c3c" stroke-width="1.0" />
<line x1="441.10" y1="223.00" x2="445.50" y2="223.00" stroke="#f23c3c" stroke-width="1.0" />
<line x1="441.10" y1="227.00" x2="445.50" y2="227.00" stroke="#f23c3c" stroke-width="1.0" />
<line x1="454.70" y1="217.70" x2="454.70" y2="220.70" stroke="#f23c3c" stroke-width="1.0" />
<line x1="452.50" y1="217.70" x2="456.90" y2="217.70" stroke="#f23c3c" stroke-width="1.0" />
<line x1="452.50" y1="220.70" x2="456.90" y2="220.70" stroke="#f23c3c" stroke-width="1.0" />
<text x="510.6" y="219.2" font-size="9.6" fill="#000"><tspan font-weight="bold">DC2-C1</tspan><tspan font-size="9.4"> (μM)</tspan><tspan dx="4"> ---</tspan><tspan dx="4">ΔTm (<tspan font-size="6" dy="-3">o</tspan><tspan dy="3">C )</tspan></tspan></text>
<line x1="515.30" y1="237.60" x2="527.90" y2="237.60" stroke="#5a5aff" stroke-width="1.2" />
<circle cx="521.60" cy="237.60" r="1.9" fill="#5a5aff" stroke="none" stroke-width="0"/>
<text x="535.50" y="241.00" font-size="10.3" text-anchor="start" fill="#000" style="stroke:#000" >6.25</text>
<text x="571.80" y="241.00" font-size="10.3" text-anchor="start" fill="#000" style="stroke:#000" >2.18</text>
<text x="597.40" y="240.70" font-size="9" text-anchor="middle" fill="#000" style="stroke:#000" >±</text>
<text x="602.30" y="241.00" font-size="10.3" text-anchor="start" fill="#000" style="stroke:#000" >0.21</text>
<line x1="515.30" y1="260.80" x2="527.90" y2="260.80" stroke="#f23c3c" stroke-width="1.2" />
<rect x="519.70" y="258.90" width="3.80" height="3.80" fill="#f23c3c"/>
<text x="535.50" y="264.10" font-size="10.3" text-anchor="start" fill="#000" style="stroke:#000" >3.13</text>
<text x="571.80" y="263.20" font-size="10.3" text-anchor="start" fill="#000" style="stroke:#000" >0.99</text>
<text x="597.40" y="262.90" font-size="9" text-anchor="middle" fill="#000" style="stroke:#000" >±</text>
<text x="602.30" y="263.20" font-size="10.3" text-anchor="start" fill="#000" style="stroke:#000" >0.09</text>
<line x1="515.30" y1="284.00" x2="527.90" y2="284.00" stroke="#16e016" stroke-width="1.2" />
<polygon points="521.60,281.70 523.80,285.60 519.40,285.60" fill="#16e016"/>
<text x="535.50" y="287.30" font-size="10.3" text-anchor="start" fill="#000" style="stroke:#000" >1.56</text>
<text x="571.80" y="287.30" font-size="10.3" text-anchor="start" fill="#000" style="stroke:#000" >0.62</text>
<text x="597.40" y="287.00" font-size="9" text-anchor="middle" fill="#000" style="stroke:#000" >±</text>
<text x="602.30" y="287.30" font-size="10.3" text-anchor="start" fill="#000" style="stroke:#000" >0.14</text>
<line x1="515.30" y1="306.70" x2="527.90" y2="306.70" stroke="#b566ee" stroke-width="1.2" />
<polygon points="521.60,309.00 523.80,305.10 519.40,305.10" fill="#b566ee"/>
<text x="535.50" y="310.20" font-size="10.3" text-anchor="start" fill="#000" style="stroke:#000" >0.78</text>
<text x="571.80" y="309.20" font-size="10.3" text-anchor="start" fill="#000" style="stroke:#000" >0.35</text>
<text x="597.40" y="308.90" font-size="9" text-anchor="middle" fill="#000" style="stroke:#000" >±</text>
<text x="602.30" y="309.20" font-size="10.3" text-anchor="start" fill="#000" style="stroke:#000" >0.03</text>
<line x1="515.30" y1="331.80" x2="527.90" y2="331.80" stroke="#ffa050" stroke-width="1.2" />
<circle cx="521.60" cy="331.80" r="1.9" fill="#ffa050" stroke="none" stroke-width="0"/>
<text x="535.50" y="335.30" font-size="10.3" text-anchor="start" fill="#000" style="stroke:#000" >0</text>
<line x1="513.30" y1="248.20" x2="622.30" y2="248.20" stroke="#2a2a2a" stroke-width="1.0" />
<line x1="513.30" y1="270.60" x2="622.30" y2="270.60" stroke="#2a2a2a" stroke-width="1.0" />
<line x1="513.30" y1="292.10" x2="622.30" y2="292.10" stroke="#555" stroke-width="1.0" />
<line x1="513.30" y1="318.10" x2="622.30" y2="318.10" stroke="#555" stroke-width="1.0" />
<line x1="261.20" y1="405.00" x2="261.20" y2="561.00" stroke="#222" stroke-width="1.3" />
<line x1="260.60" y1="560.40" x2="450.80" y2="560.40" stroke="#222" stroke-width="1.3" />
<line x1="256.00" y1="405.80" x2="261.50" y2="405.80" stroke="#222" stroke-width="1.3" />
<text x="254.40" y="409.40" font-size="10" text-anchor="end" fill="#000" style="stroke:#000" >120</text>
<line x1="256.00" y1="450.00" x2="261.50" y2="450.00" stroke="#222" stroke-width="1.3" />
<text x="254.40" y="453.60" font-size="10" text-anchor="end" fill="#000" style="stroke:#000" >80</text>
<line x1="256.00" y1="494.20" x2="261.50" y2="494.20" stroke="#222" stroke-width="1.3" />
<text x="254.40" y="497.80" font-size="10" text-anchor="end" fill="#000" style="stroke:#000" >40</text>
<line x1="256.00" y1="538.40" x2="261.50" y2="538.40" stroke="#222" stroke-width="1.3" />
<text x="254.40" y="542.00" font-size="10" text-anchor="end" fill="#000" style="stroke:#000" >0</text>
<line x1="261.00" y1="560.00" x2="261.00" y2="565.60" stroke="#222" stroke-width="1.3" />
<text x="261.00" y="576.60" font-size="10" text-anchor="middle" fill="#000" style="stroke:#000" >-3</text>
<line x1="298.85" y1="560.00" x2="298.85" y2="565.60" stroke="#222" stroke-width="1.3" />
<text x="298.85" y="576.60" font-size="10" text-anchor="middle" fill="#000" style="stroke:#000" >-2</text>
<line x1="336.70" y1="560.00" x2="336.70" y2="565.60" stroke="#222" stroke-width="1.3" />
<text x="336.70" y="576.60" font-size="10" text-anchor="middle" fill="#000" style="stroke:#000" >-1</text>
<line x1="374.55" y1="560.00" x2="374.55" y2="565.60" stroke="#222" stroke-width="1.3" />
<text x="374.55" y="576.60" font-size="10" text-anchor="middle" fill="#000" style="stroke:#000" >0</text>
<line x1="412.40" y1="560.00" x2="412.40" y2="565.60" stroke="#222" stroke-width="1.3" />
<text x="412.40" y="576.60" font-size="10" text-anchor="middle" fill="#000" style="stroke:#000" >1</text>
<line x1="450.25" y1="560.00" x2="450.25" y2="565.60" stroke="#222" stroke-width="1.3" />
<text x="450.25" y="576.60" font-size="10" text-anchor="middle" fill="#000" style="stroke:#000" >2</text>
<text x="316" y="590.1" font-size="10.15" fill="#000">Log [<tspan font-weight="bold">DC2-C1</tspan>] (μM)</text>
<text transform="translate(234.1,480.2) rotate(-90)" font-size="10.1" text-anchor="middle" fill="#000">Inhibition (%)</text>
<line x1="260.50" y1="538.10" x2="448.20" y2="538.10" stroke="#111" stroke-width="1.5" stroke-dasharray="1.4,2.39"/>
<polyline points="276.14,535.14 277.76,534.97 279.39,534.79 281.01,534.60 282.64,534.38 284.26,534.14 285.88,533.87 287.51,533.59 289.13,533.27 290.75,532.92 292.38,532.54 294.00,532.12 295.63,531.66 297.25,531.16 298.87,530.62 300.50,530.02 302.12,529.37 303.74,528.66 305.37,527.89 306.99,527.05 308.62,526.14 310.24,525.16 311.86,524.10 313.49,522.95 315.11,521.72 316.73,520.39 318.36,518.97 319.98,517.45 321.61,515.83 323.23,514.11 324.85,512.29 326.48,510.37 328.10,508.34 329.72,506.22 331.35,504.01 332.97,501.70 334.60,499.32 336.22,496.85 337.84,494.33 339.47,491.74 341.09,489.11 342.71,486.45 344.34,483.77 345.96,481.09 347.59,478.41 349.21,475.74 350.83,473.11 352.46,470.53 354.08,467.99 355.70,465.53 357.33,463.13 358.95,460.82 360.58,458.60 362.20,456.47 363.82,454.44 365.45,452.50 367.07,450.67 368.69,448.95 370.32,447.32 371.94,445.79 373.57,444.37 375.19,443.03 376.81,441.79 378.44,440.64 380.06,439.57 381.68,438.58 383.31,437.66 384.93,436.82 386.56,436.04 388.18,435.33 389.80,434.67 391.43,434.07 393.05,433.52 394.67,433.02 396.30,432.56 397.92,432.14 399.55,431.75 401.17,431.40 402.79,431.08 404.42,430.79 406.04,430.53 407.66,430.28 409.29,430.06 410.91,429.86 412.54,429.68 414.16,429.52 415.78,429.37 417.41,429.23 419.03,429.11 420.66,428.99 422.28,428.89 423.90,428.80 425.53,428.72 427.15,428.64 428.77,428.57 430.40,428.51 432.02,428.45 433.65,428.40 435.27,428.35 436.89,428.31 438.52,428.27" fill="none" stroke="#6b0f62" stroke-width="1.3" stroke-linejoin="round" />
<path d="M312.30,533.20 C315.25,532.42 325.38,529.87 330.00,528.50 C334.62,527.13 336.88,526.28 340.00,525.00 C343.12,523.72 345.92,522.47 348.70,520.80 C351.48,519.13 353.65,517.63 356.70,515.00 C359.75,512.37 363.67,508.33 367.00,505.00 C370.33,501.67 373.75,497.92 376.70,495.00 C379.65,492.08 381.65,490.42 384.70,487.50 C387.75,484.58 391.95,480.28 395.00,477.50 C398.05,474.72 400.22,473.17 403.00,470.80 C405.78,468.43 408.67,465.65 411.70,463.30 C414.73,460.95 418.15,458.78 421.20,456.70 C424.25,454.62 427.15,452.62 430.00,450.80 C432.85,448.98 436.92,446.63 438.30,445.80 " fill="none" stroke="#5aa5f5" stroke-width="1.25"/>
<path d="M312.30,531.90 C315.25,531.42 323.93,530.15 330.00,529.00 C336.07,527.85 342.53,526.50 348.70,525.00 C354.87,523.50 361.00,521.95 367.00,520.00 C373.00,518.05 378.70,515.80 384.70,513.30 C390.70,510.80 396.92,507.63 403.00,505.00 C409.08,502.37 415.32,499.87 421.20,497.50 C427.08,495.13 435.45,491.92 438.30,490.80 " fill="none" stroke="#ffa040" stroke-width="1.25"/>
<path d="M312.30,528.60 C316.92,528.20 330.93,527.27 340.00,526.20 C349.07,525.13 359.20,523.45 366.70,522.20 C374.20,520.95 378.95,519.78 385.00,518.70 C391.05,517.62 396.97,516.72 403.00,515.70 C409.03,514.68 415.32,513.75 421.20,512.60 C427.08,511.45 435.45,509.43 438.30,508.80 " fill="none" stroke="#1ebf1e" stroke-width="1.25"/>
<path d="M312.30,537.50 C315.25,537.47 323.93,537.45 330.00,537.30 C336.07,537.15 342.58,536.93 348.70,536.60 C354.82,536.27 360.65,535.85 366.70,535.30 C372.75,534.75 378.95,534.32 385.00,533.30 C391.05,532.28 396.97,530.87 403.00,529.20 C409.03,527.53 415.32,525.67 421.20,523.30 C427.08,520.93 435.45,516.38 438.30,515.00 " fill="none" stroke="#c8904a" stroke-width="1.25"/>
<circle cx="348.60" cy="539.20" r="2.09" fill="#c8904a" stroke="none" stroke-width="0"/>
<line x1="367.00" y1="529.30" x2="367.00" y2="533.30" stroke="#c8904a" stroke-width="1.1" />
<line x1="364.70" y1="529.30" x2="369.30" y2="529.30" stroke="#c8904a" stroke-width="1.1" />
<line x1="364.70" y1="533.30" x2="369.30" y2="533.30" stroke="#c8904a" stroke-width="1.1" />
<circle cx="367.00" cy="531.30" r="2.09" fill="#c8904a" stroke="none" stroke-width="0"/>
<circle cx="384.70" cy="535.50" r="2.09" fill="#c8904a" stroke="none" stroke-width="0"/>
<circle cx="403.00" cy="529.20" r="2.09" fill="#c8904a" stroke="none" stroke-width="0"/>
<circle cx="421.20" cy="523.30" r="2.09" fill="#c8904a" stroke="none" stroke-width="0"/>
<circle cx="439.30" cy="515.30" r="2.09" fill="#c8904a" stroke="none" stroke-width="0"/>
<polygon points="312.30,533.49 314.61,535.80 312.30,538.11 309.99,535.80" fill="#ffa040"/>
<polygon points="330.40,529.89 332.71,532.20 330.40,534.51 328.09,532.20" fill="#ffa040"/>
<line x1="348.80" y1="515.50" x2="348.80" y2="536.50" stroke="#ffa040" stroke-width="1.1" />
<line x1="346.50" y1="515.50" x2="351.10" y2="515.50" stroke="#ffa040" stroke-width="1.1" />
<line x1="346.50" y1="536.50" x2="351.10" y2="536.50" stroke="#ffa040" stroke-width="1.1" />
<polygon points="348.80,523.69 351.11,526.00 348.80,528.31 346.49,526.00" fill="#ffa040"/>
<line x1="367.00" y1="521.20" x2="367.00" y2="527.20" stroke="#ffa040" stroke-width="1.1" />
<line x1="364.70" y1="521.20" x2="369.30" y2="521.20" stroke="#ffa040" stroke-width="1.1" />
<line x1="364.70" y1="527.20" x2="369.30" y2="527.20" stroke="#ffa040" stroke-width="1.1" />
<polygon points="367.00,521.89 369.31,524.20 367.00,526.51 364.69,524.20" fill="#ffa040"/>
<polygon points="384.70,506.49 387.01,508.80 384.70,511.11 382.39,508.80" fill="#ffa040"/>
<line x1="403.00" y1="499.20" x2="403.00" y2="504.20" stroke="#ffa040" stroke-width="1.1" />
<line x1="400.70" y1="499.20" x2="405.30" y2="499.20" stroke="#ffa040" stroke-width="1.1" />
<line x1="400.70" y1="504.20" x2="405.30" y2="504.20" stroke="#ffa040" stroke-width="1.1" />
<polygon points="403.00,499.39 405.31,501.70 403.00,504.01 400.69,501.70" fill="#ffa040"/>
<polygon points="421.20,495.99 423.51,498.30 421.20,500.61 418.89,498.30" fill="#ffa040"/>
<polygon points="439.30,494.39 441.61,496.70 439.30,499.01 436.99,496.70" fill="#ffa040"/>
<polygon points="312.30,534.24 314.94,538.92 309.66,538.92" fill="#1ebf1e"/>
<polygon points="330.50,527.94 333.14,532.62 327.86,532.62" fill="#1ebf1e"/>
<polygon points="348.80,516.74 351.44,521.42 346.16,521.42" fill="#1ebf1e"/>
<polygon points="366.70,514.74 369.34,519.42 364.06,519.42" fill="#1ebf1e"/>
<polygon points="385.00,515.54 387.64,520.22 382.36,520.22" fill="#1ebf1e"/>
<polygon points="403.00,508.04 405.64,512.72 400.36,512.72" fill="#1ebf1e"/>
<polygon points="421.20,510.04 423.84,514.72 418.56,514.72" fill="#1ebf1e"/>
<line x1="439.30" y1="512.50" x2="439.30" y2="517.50" stroke="#1ebf1e" stroke-width="1.1" />
<line x1="437.00" y1="512.50" x2="441.60" y2="512.50" stroke="#1ebf1e" stroke-width="1.1" />
<line x1="437.00" y1="517.50" x2="441.60" y2="517.50" stroke="#1ebf1e" stroke-width="1.1" />
<polygon points="439.30,512.24 441.94,516.92 436.66,516.92" fill="#1ebf1e"/>
<circle cx="312.30" cy="540.90" r="2.4699999999999998" fill="#5aa5f5" stroke="none" stroke-width="0"/>
<circle cx="330.50" cy="535.10" r="2.4699999999999998" fill="#5aa5f5" stroke="none" stroke-width="0"/>
<circle cx="348.80" cy="523.00" r="2.4699999999999998" fill="#5aa5f5" stroke="none" stroke-width="0"/>
<circle cx="367.00" cy="505.50" r="2.4699999999999998" fill="#5aa5f5" stroke="none" stroke-width="0"/>
<circle cx="384.70" cy="484.50" r="2.4699999999999998" fill="#5aa5f5" stroke="none" stroke-width="0"/>
<line x1="403.00" y1="468.30" x2="403.00" y2="474.30" stroke="#5aa5f5" stroke-width="1.1" />
<line x1="400.70" y1="468.30" x2="405.30" y2="468.30" stroke="#5aa5f5" stroke-width="1.1" />
<line x1="400.70" y1="474.30" x2="405.30" y2="474.30" stroke="#5aa5f5" stroke-width="1.1" />
<circle cx="403.00" cy="471.30" r="2.4699999999999998" fill="#5aa5f5" stroke="none" stroke-width="0"/>
<circle cx="421.20" cy="461.20" r="2.4699999999999998" fill="#5aa5f5" stroke="none" stroke-width="0"/>
<circle cx="439.30" cy="451.70" r="2.4699999999999998" fill="#5aa5f5" stroke="none" stroke-width="0"/>
<line x1="276.20" y1="530.90" x2="276.20" y2="536.90" stroke="#6b0f62" stroke-width="1.2" />
<line x1="273.70" y1="530.90" x2="278.70" y2="530.90" stroke="#6b0f62" stroke-width="1.2" />
<line x1="273.70" y1="536.90" x2="278.70" y2="536.90" stroke="#6b0f62" stroke-width="1.2" />
<polygon points="276.20,535.74 278.12,532.46 274.28,532.46" fill="white" stroke="#6b0f62" stroke-width="1.1"/>
<polygon points="294.20,535.94 296.12,532.66 292.28,532.66" fill="white" stroke="#6b0f62" stroke-width="1.1"/>
<line x1="312.30" y1="524.30" x2="312.30" y2="530.30" stroke="#6b0f62" stroke-width="1.2" />
<line x1="309.80" y1="524.30" x2="314.80" y2="524.30" stroke="#6b0f62" stroke-width="1.2" />
<line x1="309.80" y1="530.30" x2="314.80" y2="530.30" stroke="#6b0f62" stroke-width="1.2" />
<polygon points="312.30,529.14 314.22,525.86 310.38,525.86" fill="white" stroke="#6b0f62" stroke-width="1.1"/>
<line x1="330.40" y1="489.00" x2="330.40" y2="517.00" stroke="#6b0f62" stroke-width="1.2" />
<line x1="327.90" y1="489.00" x2="332.90" y2="489.00" stroke="#6b0f62" stroke-width="1.2" />
<line x1="327.90" y1="517.00" x2="332.90" y2="517.00" stroke="#6b0f62" stroke-width="1.2" />
<polygon points="330.40,504.84 332.32,501.56 328.48,501.56" fill="white" stroke="#6b0f62" stroke-width="1.1"/>
<polygon points="348.70,476.04 350.62,472.76 346.78,472.76" fill="white" stroke="#6b0f62" stroke-width="1.1"/>
<polygon points="366.20,456.24 368.12,452.96 364.28,452.96" fill="white" stroke="#6b0f62" stroke-width="1.1"/>
<polygon points="384.60,439.44 386.52,436.16 382.68,436.16" fill="white" stroke="#6b0f62" stroke-width="1.1"/>
<polygon points="403.00,437.04 404.92,433.76 401.08,433.76" fill="white" stroke="#6b0f62" stroke-width="1.1"/>
<polygon points="421.00,437.84 422.92,434.56 419.08,434.56" fill="white" stroke="#6b0f62" stroke-width="1.1"/>
<polygon points="439.20,437.84 441.12,434.56 437.28,434.56" fill="white" stroke="#6b0f62" stroke-width="1.1"/>
<line x1="466.00" y1="453.80" x2="479.40" y2="453.80" stroke="#6b0f62" stroke-width="1.4" />
<polygon points="472.5,456.20 474.9,451.90 470.1,451.90" fill="#6b0f62" stroke="#6b0f62" stroke-width="0.8"/>
<text x="487.00" y="457.40" font-size="9.6" text-anchor="start" fill="#000" style="stroke:#000" >YTHDC2</text>
<text x="548.60" y="457.40" font-size="9.7" text-anchor="middle" fill="#000" style="stroke:#000" >0.168</text>
<line x1="563.60" y1="453.20" x2="568.50" y2="453.20" stroke="#111" stroke-width="1.3" />
<line x1="466.00" y1="481.90" x2="479.40" y2="481.90" stroke="#5aa5f5" stroke-width="1.4" />
<circle cx="472.70" cy="481.90" r="2.1849999999999996" fill="#5aa5f5" stroke="none" stroke-width="0"/>
<text x="487.00" y="485.50" font-size="9.6" text-anchor="start" fill="#000" style="stroke:#000" >YTHDC1</text>
<text x="548.60" y="485.50" font-size="9.7" text-anchor="middle" fill="#000" style="stroke:#000" >3.18</text>
<line x1="563.60" y1="479.80" x2="568.50" y2="479.80" stroke="#111" stroke-width="1.3" />
<line x1="466.00" y1="507.90" x2="479.40" y2="507.90" stroke="#1ebf1e" stroke-width="1.4" />
<polygon points="472.70,505.25 475.23,509.74 470.17,509.74" fill="#1ebf1e"/>
<text x="487.00" y="511.50" font-size="9.6" text-anchor="start" fill="#000" style="stroke:#000" >YTHDF1</text>
<text x="548.60" y="511.50" font-size="9.7" text-anchor="middle" fill="#000" style="stroke:#000" >&gt;50</text>
<line x1="563.60" y1="506.40" x2="568.50" y2="506.40" stroke="#111" stroke-width="1.3" />
<line x1="466.00" y1="534.40" x2="479.40" y2="534.40" stroke="#ffa040" stroke-width="1.4" />
<polygon points="472.70,531.99 475.12,534.40 472.70,536.81 470.28,534.40" fill="#ffa040"/>
<text x="487.00" y="538.00" font-size="9.6" text-anchor="start" fill="#000" style="stroke:#000" >YTHDF2</text>
<text x="548.60" y="538.00" font-size="9.7" text-anchor="middle" fill="#000" style="stroke:#000" >&gt;50</text>
<line x1="563.60" y1="533.00" x2="568.50" y2="533.00" stroke="#111" stroke-width="1.3" />
<line x1="466.00" y1="560.20" x2="479.40" y2="560.20" stroke="#c8904a" stroke-width="1.4" />
<rect x="470.51" y="558.02" width="4.37" height="4.37" fill="#c8904a"/>
<text x="487.00" y="563.80" font-size="9.6" text-anchor="start" fill="#000" style="stroke:#000" >YTHDF3</text>
<text x="548.60" y="563.80" font-size="9.7" text-anchor="middle" fill="#000" style="stroke:#000" >&gt;50</text>
<line x1="563.60" y1="559.60" x2="568.50" y2="559.60" stroke="#111" stroke-width="1.3" />
<rect x="568.6" y="440.3" width="25" height="26.8" fill="#ff8208"/>
<rect x="568.6" y="467.1" width="25" height="26.3" fill="#fde0e2"/>
<rect x="568.6" y="440.3" width="25" height="132" fill="none" stroke="#111" stroke-width="1.5"/>
<line x1="581.10" y1="572.30" x2="581.10" y2="576.80" stroke="#111" stroke-width="1.4" />
<defs><linearGradient id="cb" x1="0" y1="0" x2="0" y2="1"><stop offset="0" stop-color="#ffffff"/><stop offset="0.45" stop-color="#fdf0f0"/><stop offset="0.8" stop-color="#fde2e2"/><stop offset="0.93" stop-color="#fdd8d4"/><stop offset="0.965" stop-color="#ffa048"/><stop offset="1" stop-color="#ff8a10"/></linearGradient></defs>
<rect x="610.3" y="440.3" width="9.2" height="132" fill="url(#cb)" stroke="#111" stroke-width="1.5"/>
<line x1="610.40" y1="546.60" x2="613.20" y2="546.60" stroke="#111" stroke-width="1.2" />
<line x1="614.60" y1="546.60" x2="615.40" y2="546.60" stroke="#999" stroke-width="1.0" />
<line x1="616.40" y1="546.60" x2="619.40" y2="546.60" stroke="#111" stroke-width="1.2" />
<text x="625.60" y="444.30" font-size="10" text-anchor="start" fill="#000" style="stroke:#000" >50</text>
<text x="625.80" y="550.30" font-size="10" text-anchor="start" fill="#000" style="stroke:#000" >10</text>
<text x="562.4" y="419.3" font-size="9.4" fill="#000">IC<tspan font-size="6" dy="1.5"> 50 </tspan><tspan dy="-1.5">(μM)</tspan></text>
<line x1="532.00" y1="426.50" x2="640.40" y2="426.50" stroke="#222" stroke-width="1.1" />
</svg>
</body></html>
